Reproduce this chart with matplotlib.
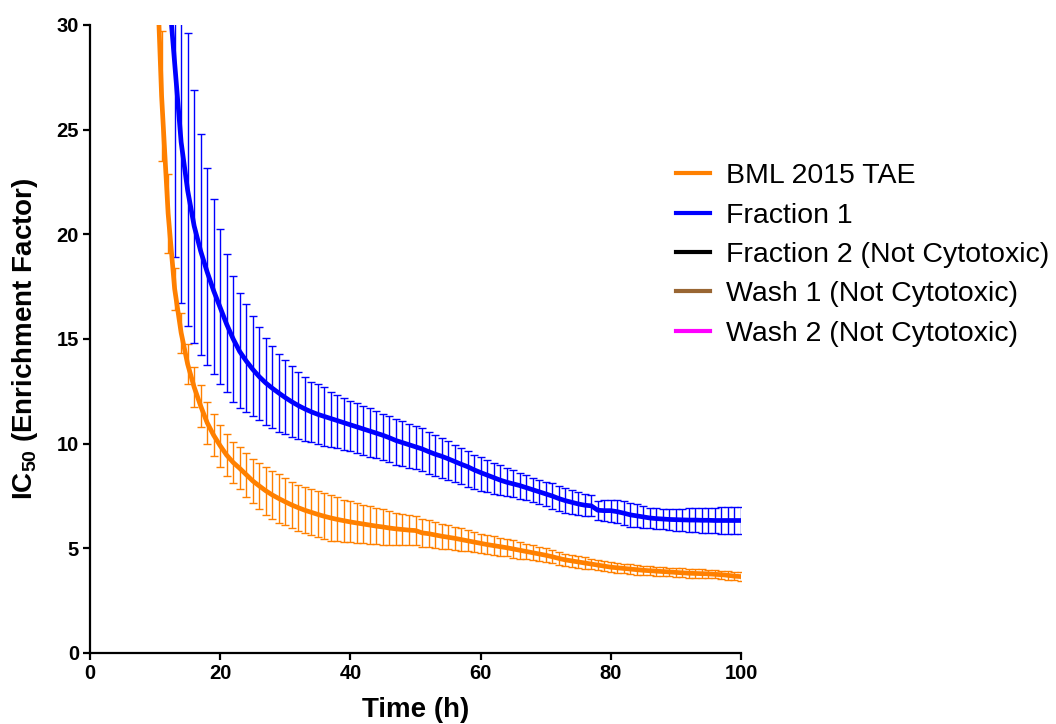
import matplotlib
matplotlib.use("Agg")
import matplotlib.pyplot as plt

# ---------------- data ----------------
orange_time = [10, 11, 12, 13, 14, 15, 16, 17, 18, 19,
               20, 21, 22, 23, 24, 25, 26, 27, 28, 29,
               30, 31, 32, 33, 34, 35, 36, 37, 38, 39,
               40, 41, 42, 43, 44, 45, 46, 47, 48, 49,
               50, 51, 52, 53, 54, 55, 56, 57, 58, 59,
               60, 61, 62, 63, 64, 65, 66, 67, 68, 69,
               70, 71, 72, 73, 74, 75, 76, 77, 78, 79,
               80, 81, 82, 83, 84, 85, 86, 87, 88, 89,
               90, 91, 92, 93, 94, 95, 96, 97, 98, 99,
               100]
orange_mean = [35.0, 26.6, 21.0, 17.4, 15.3, 13.8, 12.7, 11.8, 11.0, 10.4,
               9.9, 9.45, 9.1, 8.82, 8.52, 8.22, 7.98, 7.75, 7.55, 7.38,
               7.22, 7.07, 6.94, 6.82, 6.72, 6.62, 6.53, 6.45, 6.38, 6.32,
               6.26, 6.21, 6.16, 6.11, 6.06, 6.02, 5.97, 5.93, 5.9, 5.87,
               5.85, 5.74, 5.7, 5.64, 5.58, 5.53, 5.48, 5.42, 5.36, 5.3,
               5.24, 5.18, 5.13, 5.08, 5.03, 4.97, 4.91, 4.85, 4.79, 4.73,
               4.67, 4.6, 4.52, 4.45, 4.4, 4.35, 4.3, 4.25, 4.2, 4.15,
               4.1, 4.07, 4.04, 4.01, 3.98, 3.95, 3.93, 3.91, 3.89, 3.87,
               3.85, 3.83, 3.81, 3.8, 3.79, 3.78, 3.76, 3.74, 3.71, 3.67,
               3.65]
orange_err = [4.0, 3.1, 1.9, 1.0, 0.95, 0.95, 0.95, 1.0, 1.0, 1.0,
              1.0, 1.0, 1.0, 1.0, 1.05, 1.05, 1.1, 1.15, 1.15, 1.15,
              1.12, 1.1, 1.1, 1.1, 1.1, 1.1, 1.1, 1.08, 1.05, 1.0,
              0.98, 0.95, 0.92, 0.9, 0.87, 0.84, 0.8, 0.76, 0.74, 0.72,
              0.7, 0.68, 0.66, 0.63, 0.6, 0.58, 0.56, 0.53, 0.5, 0.48,
              0.46, 0.45, 0.44, 0.43, 0.42, 0.41, 0.4, 0.38, 0.36, 0.34,
              0.33, 0.32, 0.31, 0.3, 0.29, 0.28, 0.27, 0.26, 0.25, 0.25,
              0.24, 0.24, 0.23, 0.23, 0.23, 0.22, 0.22, 0.22, 0.22, 0.21,
              0.21, 0.21, 0.21, 0.2, 0.2, 0.2, 0.2, 0.2, 0.2, 0.2,
              0.2]

blue_time = [12, 13, 14, 15, 16, 17, 18, 19,
             20, 21, 22, 23, 24, 25, 26, 27, 28, 29,
             30, 31, 32, 33, 34, 35, 36, 37, 38, 39,
             40, 41, 42, 43, 44, 45, 46, 47, 48, 49,
             50, 51, 52, 53, 54, 55, 56, 57, 58, 59,
             60, 61, 62, 63, 64, 65, 66, 67, 68, 69,
             70, 71, 72, 73, 74, 75, 76, 77, 78, 79,
             80, 81, 82, 83, 84, 85, 86, 87, 88, 89,
             90, 91, 92, 93, 94, 95, 96, 97, 98, 99,
             100]
blue_mean = [32.0, 28.2, 24.4, 22.1, 20.4, 19.2, 18.2, 17.3,
             16.5, 15.7, 15.0, 14.4, 13.95, 13.55, 13.2, 12.9, 12.65, 12.42,
             12.2, 12.0, 11.82, 11.66, 11.52, 11.4, 11.3, 11.2, 11.1, 11.0,
             10.9, 10.8, 10.7, 10.6, 10.5, 10.4, 10.28, 10.15, 10.05, 9.95,
             9.85, 9.75, 9.62, 9.5, 9.4, 9.28, 9.15, 9.02, 8.9, 8.75,
             8.62, 8.5, 8.38, 8.26, 8.16, 8.08, 8.0, 7.9, 7.8, 7.7,
             7.6, 7.5, 7.38, 7.28, 7.2, 7.12, 7.06, 7.03, 6.82, 6.8,
             6.8, 6.75, 6.68, 6.6, 6.55, 6.5, 6.45, 6.42, 6.4, 6.38,
             6.37, 6.36, 6.35, 6.35, 6.34, 6.34, 6.33, 6.33, 6.33, 6.33,
             6.33]
blue_err_lo = [1.5, 9.3, 7.7, 6.5, 5.6, 4.95, 4.45, 3.95,
               3.65, 3.25, 3.0, 2.7, 2.42, 2.23, 2.07, 2.0, 1.92, 1.85,
               1.75, 1.7, 1.6, 1.52, 1.45, 1.43, 1.4, 1.35, 1.32, 1.28,
               1.25, 1.25, 1.25, 1.22, 1.2, 1.18, 1.17, 1.15, 1.13, 1.1,
               1.08, 1.07, 1.05, 1.03, 1.02, 1.0, 0.98, 0.97, 0.95, 0.92,
               0.88, 0.82, 0.78, 0.72, 0.68, 0.65, 0.62, 0.6, 0.58, 0.58,
               0.58, 0.6, 0.6, 0.6, 0.58, 0.55, 0.52, 0.5, 0.45, 0.5,
               0.52, 0.55, 0.57, 0.58, 0.55, 0.53, 0.5, 0.5, 0.5, 0.5,
               0.52, 0.54, 0.56, 0.58, 0.6, 0.6, 0.62, 0.63, 0.63, 0.64,
               0.64]
blue_err_hi = [5.0, 9.0, 8.0, 7.5, 6.5, 5.6, 4.95, 4.4,
               3.75, 3.35, 3.0, 2.8, 2.7, 2.55, 2.39, 2.14, 2.03, 1.87,
               1.8, 1.71, 1.59, 1.54, 1.44, 1.44, 1.39, 1.26, 1.23, 1.2,
               1.16, 1.13, 1.1, 1.1, 1.08, 1.04, 1.02, 1.04, 1.02, 1.0,
               0.99, 0.98, 0.95, 0.92, 0.87, 0.83, 0.8, 0.77, 0.74, 0.72,
               0.72, 0.72, 0.72, 0.72, 0.68, 0.65, 0.62, 0.6, 0.58, 0.58,
               0.58, 0.6, 0.6, 0.6, 0.58, 0.55, 0.52, 0.5, 0.45, 0.5,
               0.52, 0.55, 0.57, 0.58, 0.55, 0.53, 0.5, 0.5, 0.5, 0.5,
               0.52, 0.54, 0.56, 0.58, 0.6, 0.6, 0.62, 0.63, 0.63, 0.64,
               0.64]

legend_labels = ["BML 2015 TAE", "Fraction 1", "Fraction 2 (Not Cytotoxic)",
                 "Wash 1 (Not Cytotoxic)", "Wash 2 (Not Cytotoxic)"]
legend_colors = ["#FF8000", "#0000FF", "#000000", "#996633", "#FF00FF"]

x_ticks = [0, 20, 40, 60, 80, 100]
y_ticks = [0, 5, 10, 15, 20, 25, 30]

# ---------------- style ----------------
plt.rcParams['font.family'] = ['Liberation Sans', 'DejaVu Sans']
plt.rcParams['mathtext.fontset'] = 'custom'
plt.rcParams['mathtext.rm'] = 'Liberation Sans:bold'
plt.rcParams['mathtext.bf'] = 'Liberation Sans:bold'

fig = plt.figure(figsize=(10.56, 7.24), dpi=100)
ax = fig.add_axes([90 / 1056, 1 - 653 / 724, (741 - 90) / 1056, (653 - 25) / 724])

# error bars
ax.errorbar(orange_time, orange_mean, yerr=orange_err, fmt='none',
            ecolor=legend_colors[0], elinewidth=1.0, capsize=2.7, capthick=1.0, zorder=2)
ax.errorbar(blue_time, blue_mean, yerr=[blue_err_lo, blue_err_hi], fmt='none',
            ecolor=legend_colors[1], elinewidth=1.0, capsize=2.7, capthick=1.0, zorder=2)
# mean curves
ax.plot(orange_time, orange_mean, color=legend_colors[0], lw=3.4, zorder=3,
        solid_capstyle='round', solid_joinstyle='round')
ax.plot(blue_time, blue_mean, color=legend_colors[1], lw=3.4, zorder=3,
        solid_capstyle='round', solid_joinstyle='round')

# legend handles (non-cytotoxic series have no curve)
handles = []
for lab, col in zip(legend_labels, legend_colors):
    h, = ax.plot([], [], color=col, lw=3.0, label=lab)
    handles.append(h)
leg = fig.legend(handles=handles, loc='center left',
                 bbox_to_anchor=(676 / 1056, 1 - 255 / 724),
                 frameon=False, fontsize=20.5, handlelength=1.2,
                 handletextpad=0.55, labelspacing=0.47, borderpad=0,
                 borderaxespad=0)

ax.set_xlim(0, 100)
ax.set_ylim(0, 30)
ax.set_xticks(x_ticks)
ax.set_yticks(y_ticks)
for s in ['top', 'right']:
    ax.spines[s].set_visible(False)
for s in ['left', 'bottom']:
    ax.spines[s].set_linewidth(1.6)
    ax.spines[s].set_color('black')
ax.tick_params(axis='both', which='major', direction='out', length=5,
               width=1.6, pad=3, labelsize=14.5)
for lab in ax.get_xticklabels() + ax.get_yticklabels():
    lab.set_fontweight('bold')

ax.set_xlabel('Time (h)', fontsize=20, fontweight='bold', labelpad=10)
ax.set_ylabel(r'IC$_{\mathbf{50}}$ (Enrichment Factor)', fontsize=20,
              fontweight='bold', labelpad=12)

fig.savefig('out.png', dpi=100)
